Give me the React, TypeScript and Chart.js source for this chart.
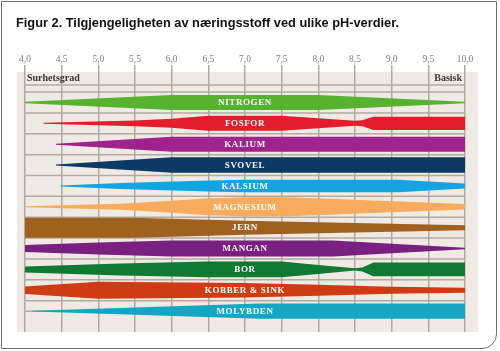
import React, { useEffect, useRef } from 'react';
import { Chart, registerables } from 'chart.js';

Chart.register(...registerables);

const TITLE = 'Figur 2. Tilgjengeligheten av næringsstoff ved ulike pH-verdier.';
const HEADER_LEFT = 'Surhetsgrad';
const HEADER_RIGHT = 'Basisk';

const nutrients = [
  'NITROGEN', 'FOSFOR', 'KALIUM', 'SVOVEL', 'KALSIUM', 'MAGNESIUM',
  'JERN', 'MANGAN', 'BOR', 'KOBBER & SINK', 'MOLYBDEN',
];
const bandColors = [
  '#56b22f', '#e31d2b', '#a0228f', '#0b3a66', '#14a5e0', '#f7ab5c',
  '#a0601f', '#7a2081', '#107a33', '#cf3b14', '#14a6c3',
];

const phTickValues = [4.0, 4.5, 5.0, 5.5, 6.0, 6.5, 7.0, 7.5, 8.0, 8.5, 9.0, 9.5, 10.0];
const phTickLabels = ['4,0', '4,5', '5,0', '5,5', '6,0', '6,5', '7,0', '7,5', '8,0', '8,5', '9,0', '9,5', '10,0'];

// availability (relative band thickness, 1 = thickest band) at given pH
const nitrogenPh = [4.0, 6.0, 8.0, 10.0];
const nitrogenLevel = [0.08, 0.75, 0.75, 0.08];
const fosforPh = [4.25, 5.5, 6.0, 6.25, 6.5, 7.5, 8.0, 8.5, 8.6, 8.75, 10.0];
const fosforLevel = [0.05, 0.28, 0.45, 0.6, 0.75, 0.75, 0.5, 0.25, 0.3, 0.66, 0.66];
const kaliumPh = [4.42, 6.0, 10.0];
const kaliumLevel = [0.05, 0.75, 0.75];
const svovelPh = [4.42, 6.0, 10.0];
const svovelLevel = [0.05, 0.78, 0.78];
const kalsiumPh = [4.48, 5.3, 6.5, 7.0, 9.1, 10.0];
const kalsiumLevel = [0.05, 0.3, 0.55, 0.62, 0.62, 0.25];
const magnesiumPh = [4.0, 5.3, 6.0, 6.5, 7.0, 7.6, 10.0];
const magnesiumLevel = [0.05, 0.3, 0.6, 0.85, 0.95, 0.95, 0.28];
const jernPh = [4.0, 5.5, 7.0, 8.0, 10.0];
const jernLevel = [1.0, 1.0, 0.7, 0.55, 0.25];
const manganPh = [4.0, 5.0, 6.0, 8.2, 10.0];
const manganLevel = [0.35, 0.6, 0.8, 0.8, 0.07];
const borPh = [4.0, 5.3, 6.5, 7.5, 8.0, 8.5, 8.6, 8.75, 10.0];
const borLevel = [0.3, 0.6, 0.78, 0.78, 0.45, 0.12, 0.2, 0.68, 0.68];
const kobberPh = [4.0, 5.0, 7.0, 8.0, 9.0, 10.0];
const kobberLevel = [0.38, 0.85, 0.72, 0.55, 0.35, 0.24];
const molybdenPh = [4.1, 7.2, 10.0];
const molybdenLevel = [0.03, 0.77, 0.77];

const bandPh = [nitrogenPh, fosforPh, kaliumPh, svovelPh, kalsiumPh, magnesiumPh, jernPh, manganPh, borPh, kobberPh, molybdenPh];
const bandLevel = [nitrogenLevel, fosforLevel, kaliumLevel, svovelLevel, kalsiumLevel, magnesiumLevel, jernLevel, manganLevel, borLevel, kobberLevel, molybdenLevel];

const HALF = 0.479; // half thickness (row units) of a level-1 band
const GRID = '#b3aa9f';
const SERIF = '"Liberation Serif", "DejaVu Serif", serif';

const decor = {
  id: 'decor',
  beforeDraw(chart: any) {
    const { ctx, chartArea: a } = chart;
    ctx.save();
    ctx.fillStyle = '#efebe4';
    ctx.fillRect(a.left - 8, a.top, a.right - a.left + 21, a.bottom - a.top);
    ctx.restore();
  },
  beforeDatasetsDraw(chart: any) {
    const { ctx, chartArea: a, scales } = chart;
    const y = scales.y;
    ctx.save();
    ctx.strokeStyle = GRID;
    ctx.lineWidth = 1.5;
    const rows = [-0.84];
    for (let i = -1; i < nutrients.length - 1; i++) rows.push(i + 0.5);
    rows.push(nutrients.length - 1);
    rows.forEach((r) => {
      const py = y.getPixelForValue(r);
      ctx.beginPath();
      ctx.moveTo(a.left, py);
      ctx.lineTo(a.right, py);
      ctx.stroke();
    });
    ctx.fillStyle = '#3a3632';
    ctx.font = `bold 10px ${SERIF}`;
    ctx.textBaseline = 'middle';
    const hy = y.getPixelForValue(-1.15);
    ctx.textAlign = 'left';
    ctx.fillText(HEADER_LEFT, a.left + 2, hy);
    ctx.textAlign = 'right';
    ctx.fillText(HEADER_RIGHT, a.right - 3, hy);
    ctx.restore();
  },
  afterDatasetsDraw(chart: any) {
    const { ctx, scales } = chart;
    ctx.save();
    ctx.fillStyle = '#ffffff';
    ctx.font = `bold 9px ${SERIF}`;
    (ctx as any).letterSpacing = '0.6px';
    ctx.textAlign = 'center';
    ctx.textBaseline = 'middle';
    const px = scales.x.getPixelForValue(7.0);
    nutrients.forEach((n, i) => {
      ctx.fillText(n, px, scales.y.getPixelForValue(i) + 0.5);
    });
    ctx.restore();
  },
};

export default function App() {
  const ref = useRef<HTMLCanvasElement | null>(null);
  useEffect(() => {
    document.body.style.margin = '0';
    if (!ref.current) return;
    const datasets: any[] = [];
    nutrients.forEach((n, i) => {
      const ph = bandPh[i];
      const lv = bandLevel[i];
      const common = {
        type: 'line',
        borderColor: 'transparent',
        borderWidth: 0,
        pointRadius: 0,
        tension: 0,
        backgroundColor: bandColors[i],
      };
      datasets.push({ ...common, label: n + ' top', data: ph.map((x, k) => ({ x, y: i - lv[k] * HALF })), fill: false });
      datasets.push({ ...common, label: n, data: ph.map((x, k) => ({ x, y: i + lv[k] * HALF })), fill: '-1' });
    });
    const chart = new Chart(ref.current, {
      type: 'line',
      data: { datasets },
      options: {
        animation: false,
        responsive: false,
        devicePixelRatio: 1,
        layout: { padding: { left: 25, right: 35, top: 53.6, bottom: 19 } },
        plugins: { legend: { display: false }, tooltip: { enabled: false }, title: { display: false } },
        scales: {
          x: {
            type: 'linear',
            position: 'top',
            min: 4,
            max: 10,
            ticks: {
              stepSize: 0.5,
              autoSkip: false,
              maxRotation: 0,
              padding: 0,
              color: '#85807a',
              font: { family: SERIF, size: 9.5 },
              callback: (v: any) => {
                const idx = phTickValues.findIndex((t) => Math.abs(t - Number(v)) < 1e-6);
                return idx >= 0 ? phTickLabels[idx] : '';
              },
            },
            grid: { color: GRID, lineWidth: 1.5, tickLength: 7, tickColor: GRID, drawTicks: true },
            border: { display: false },
          },
          y: { type: 'linear', display: false, min: -1.46, max: 11.0, reverse: true },
        },
      } as any,
      plugins: [decor],
    });
    return () => chart.destroy();
  }, []);

  return (
    <div style={{ position: 'fixed', left: 0, top: 0, width: 500, height: 351, background: '#ffffff' }}>
      <canvas ref={ref} width={500} height={351} style={{ position: 'absolute', left: 0, top: 0, display: 'block' }} />
      <div
        style={{
          position: 'absolute', left: 16, top: 15, whiteSpace: 'nowrap',
          font: 'bold 12.8px "Liberation Sans", Arial, sans-serif', lineHeight: '16px', color: '#111',
        }}
      >
        {TITLE}
      </div>
      <div
        style={{
          position: 'absolute', left: 1, top: 1, width: 496, height: 347.5, boxSizing: 'border-box',
          border: '1.5px solid #707070', borderBottomRightRadius: 15, pointerEvents: 'none',
        }}
      />
    </div>
  );
}
